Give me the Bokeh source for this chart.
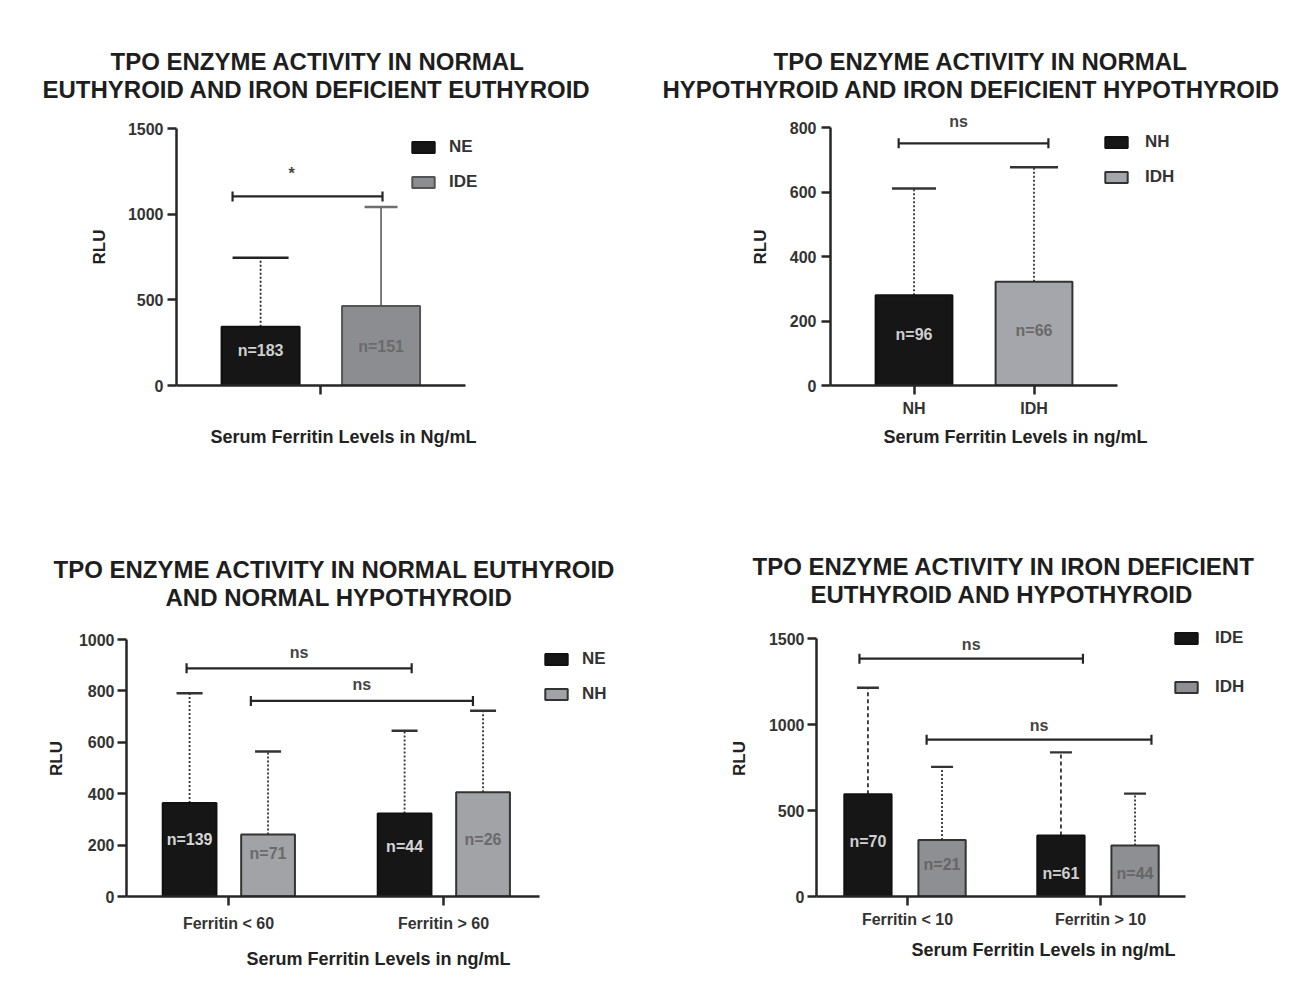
import math
from bokeh.plotting import figure
from bokeh.models import (ColumnDataSource, FixedTicker, Legend, LegendItem,
                          Range1d, Title)
from bokeh.layouts import row, column
from bokeh.transform import dodge
from bokeh.core.properties import value
from bokeh.embed import file_html
from bokeh.resources import INLINE

# ---------------------------------------------------------------- data
# Panel 1: normal euthyroid vs iron deficient euthyroid
p1_title = ["TPO ENZYME ACTIVITY IN NORMAL", "EUTHYROID AND IRON DEFICIENT EUTHYROID"]
p1_groups = [" "]
p1_series = ["NE", "IDE"]
p1_bar_group = [" ", " "]
p1_bar_series = ["NE", "IDE"]
p1_mean = [343, 464]
p1_upper = [746, 1042]
p1_n = ["n=183", "n=151"]
p1_yticks = [0, 500, 1000, 1500]
p1_sig = [(0, 1, 1104, "*")]
p1_xlabel = "Serum Ferritin Levels in Ng/mL"

# Panel 2: normal hypothyroid vs iron deficient hypothyroid
p2_title = ["TPO ENZYME ACTIVITY IN NORMAL", "HYPOTHYROID AND IRON DEFICIENT HYPOTHYROID"]
p2_groups = ["NH", "IDH"]
p2_series = ["NH", "IDH"]
p2_bar_group = ["NH", "IDH"]
p2_bar_series = ["NH", "IDH"]
p2_mean = [280, 322]
p2_upper = [611, 677]
p2_n = ["n=96", "n=66"]
p2_yticks = [0, 200, 400, 600, 800]
p2_sig = [(0, 1, 751, "ns")]
p2_xlabel = "Serum Ferritin Levels in ng/mL"

# Panel 3: normal euthyroid vs normal hypothyroid
p3_title = ["TPO ENZYME ACTIVITY IN NORMAL EUTHYROID", "AND NORMAL HYPOTHYROID"]
p3_groups = ["Ferritin < 60", "Ferritin > 60"]
p3_series = ["NE", "NH"]
p3_bar_group = ["Ferritin < 60", "Ferritin < 60", "Ferritin > 60", "Ferritin > 60"]
p3_bar_series = ["NE", "NH", "NE", "NH"]
p3_mean = [364, 241, 323, 406]
p3_upper = [791, 564, 645, 723]
p3_n = ["n=139", "n=71", "n=44", "n=26"]
p3_yticks = [0, 200, 400, 600, 800, 1000]
p3_sig = [(0, 2, 888, "ns"), (1, 3, 761, "ns")]
p3_xlabel = "Serum Ferritin Levels in ng/mL"

# Panel 4: iron deficient euthyroid vs iron deficient hypothyroid
p4_title = ["TPO ENZYME ACTIVITY IN IRON DEFICIENT", "EUTHYROID AND HYPOTHYROID"]
p4_groups = ["Ferritin < 10", "Ferritin > 10"]
p4_series = ["IDE", "IDH"]
p4_bar_group = ["Ferritin < 10", "Ferritin < 10", "Ferritin > 10", "Ferritin > 10"]
p4_bar_series = ["IDE", "IDH", "IDE", "IDH"]
p4_mean = [594, 329, 355, 296]
p4_upper = [1214, 754, 838, 598]
p4_n = ["n=70", "n=21", "n=61", "n=44"]
p4_yticks = [0, 500, 1000, 1500]
p4_sig = [(0, 2, 1383, "ns"), (1, 3, 912, "ns")]
p4_xlabel = "Serum Ferritin Levels in ng/mL"

# ---------------------------------------------------------------- styles
FONT = "Liberation Sans"
DARK = "#161616"
AXIS = "#262626"

# xr = (frame start, axis end, frame end) in group-index units
# ytop = top of the plotting frame (the axis itself stops at the last tick)
S1 = dict(width=648, height=503, borders=(176, 138, 108, 118), xr=(-0.5, 0.5, 0.656),
          ytop=1617,
          offsets={"NE": -0.209, "IDE": 0.208}, bar_w=0.27,
          fills={"NE": DARK, "IDE": "#8c8d91"},
          lines={"NE": "#111111", "IDE": "#555555"},
          ncol={"NE": "#cfcfcf", "IDE": "#6a6a6a"},
          nfrac=[0.6, 0.49],
          err={"NE": ("2 2", "#222222", 56), "IDE": ("solid", "#6e6e6e", 33)},
          sig_tweak=[(-0.097, 0.005)], sig_dx=[-16], sig_dy=-23,
          legend_loc=(233, 193), legend_spacing=15, legend_standoff=12,
          title_so=(-14, 12), title_x=(-66, -134), yl_std=(4, 16), xl_std=(4, 8))

S2 = dict(width=660, height=503, borders=(182, 108, 108, 118), xr=(-0.696, 1.696, 2.3875),
          ytop=859,
          offsets={"NH": 0.0, "IDH": 0.0}, bar_w=0.64,
          fills={"NH": DARK, "IDH": "#a5a6ab"},
          lines={"NH": "#111111", "IDH": "#333333"},
          ncol={"NH": "#cfcfcf", "IDH": "#6a6a6a"},
          nfrac=[0.57, 0.53],
          err={"NH": ("2 2", "#333333", 44), "IDH": ("2 2", "#333333", 48)},
          sig_tweak=[(-0.128, 0.12)], sig_dx=[-15], sig_dy=-22,
          legend_loc=(272, 198), legend_spacing=15, legend_standoff=15,
          title_so=(-14, 12), title_x=(-57, -168), yl_std=(5, 17), xl_std=(5, 7))

S3 = dict(width=648, height=490, borders=(126, 18, 117, 97), xr=(-0.4744, 1.4465, 1.8698),
          ytop=1074,
          offsets={"NE": -0.181, "NH": 0.184}, bar_w=0.25,
          fills={"NE": DARK, "NH": "#a2a3a7"},
          lines={"NE": "#111111", "NH": "#333333"},
          ncol={"NE": "#d6d6d6", "NH": "#6a6a6a"},
          nfrac=[0.61, 0.69, 0.6, 0.55],
          err={"NE": ("2 2", "#333333", 26), "NH": ("2 2", "#333333", 26)},
          sig_tweak=[(-0.014, 0.033), (-0.08, -0.047)], sig_dx=[0, 0], sig_dy=-16,
          legend_loc=(416, 192), legend_spacing=15, legend_standoff=12,
          title_so=(-22, 20), title_x=(-73, 39), yl_std=(3, 10), xl_std=(9, 14))

S4 = dict(width=660, height=490, borders=(168, 38, 117, 97), xr=(-0.4715, 1.4404, 1.8808),
          ytop=1605,
          offsets={"IDE": -0.205, "IDH": 0.179}, bar_w=0.245,
          fills={"IDE": DARK, "IDH": "#8e8f93"},
          lines={"IDE": "#111111", "IDH": "#333333"},
          ncol={"IDE": "#cfcfcf", "IDH": "#666666"},
          nfrac=[0.54, 0.57, 0.38, 0.45],
          err={"IDE": ("4 3", "#333333", 22), "IDH": ("2 2", "#333333", 22)},
          sig_tweak=[(-0.044, 0.114), (-0.08, 0.085)], sig_dx=[0, 0], sig_dy=-14,
          legend_loc=(356, 199), legend_spacing=29, legend_standoff=15,
          title_so=(-28, 26), title_x=(-64, -6), yl_std=(3, 17), xl_std=(5, 9))


def title_props(t, off):
    t.align = "left"
    t.offset = off
    t.text_font = FONT
    t.text_font_size = "24px"
    t.text_font_style = "bold"
    t.text_color = "#1e1e1e"


def make_panel(title, groups, series, bar_group, bar_series, mean, upper, nlab,
               yticks, sig, xlabel, s):
    bl, br, bt, bb = s["borders"]
    x0, xaxis_end, x1 = s["xr"]
    p = figure(width=s["width"], height=s["height"],
               x_range=Range1d(x0, x1), y_range=Range1d(0, s["ytop"]),
               min_border_left=bl, min_border_right=br,
               min_border_top=bt, min_border_bottom=bb,
               output_backend="svg", toolbar_location=None)
    p.background_fill_color = "white"
    p.border_fill_color = "white"
    p.outline_line_color = None
    p.xgrid.visible = False
    p.ygrid.visible = False

    # two title lines: outer line is the figure title
    p.title.text = title[0]
    title_props(p.title, s["title_x"][0])
    p.title.standoff = s["title_so"][0]
    t2 = Title(text=title[1])
    title_props(t2, s["title_x"][1])
    t2.standoff = s["title_so"][1]
    p.add_layout(t2, "above")

    renderers = {}
    for sname in series:
        idx = [i for i, ss in enumerate(bar_series) if ss == sname]
        src = ColumnDataSource(dict(
            gi=[groups.index(bar_group[i]) for i in idx],
            mean=[mean[i] for i in idx],
            upper=[upper[i] for i in idx],
            n=[nlab[i] for i in idx],
            ny=[mean[i] * s["nfrac"][i] for i in idx]))
        off = s["offsets"][sname]
        dash, ecol, cap = s["err"][sname]
        p.segment(x0=dodge("gi", off), y0="mean", x1=dodge("gi", off), y1="upper",
                  source=src, line_color=ecol, line_width=1.8, line_dash=dash)
        p.scatter(x=dodge("gi", off), y="upper", marker="dash",
                  size=cap, line_width=2.4, line_color=ecol, source=src)
        r = p.vbar(x=dodge("gi", off), top="mean", bottom=0,
                   width=s["bar_w"], source=src, fill_color=s["fills"][sname],
                   line_color=s["lines"][sname], line_width=2)
        p.text(x=dodge("gi", off), y="ny", text="n", source=src,
               text_align="center", text_baseline="middle",
               text_font=value(FONT), text_font_style="bold",
               text_font_size="16px", text_color=s["ncol"][sname])
        renderers[sname] = r

    # significance brackets
    for k, (a, b, yv, lab) in enumerate(sig):
        ta, tb = s["sig_tweak"][k]
        oa = s["offsets"][bar_series[a]] + ta
        ob = s["offsets"][bar_series[b]] + tb
        ia, ib = groups.index(bar_group[a]), groups.index(bar_group[b])
        src = ColumnDataSource(dict(ia=[ia], ib=[ib], y=[yv], lab=[lab]))
        p.segment(x0=dodge("ia", oa), y0="y", x1=dodge("ib", ob), y1="y",
                  source=src, line_color=AXIS, line_width=2.2)
        for g, o in (("ia", oa), ("ib", ob)):
            p.scatter(x=dodge(g, o), y="y", marker="dash",
                      angle=math.pi / 2, size=10, line_width=2.2,
                      line_color=AXIS, source=src)
        mid = (oa + ob + (ib - ia)) / 2.0
        p.text(x=dodge("ia", mid), y="y", text="lab", source=src,
               text_align="center", text_baseline="middle",
               x_offset=s["sig_dx"][k], y_offset=s["sig_dy"],
               text_font=value(FONT), text_font_style="bold",
               text_font_size="16px", text_color="#444444")

    # axes
    for ax in (p.xaxis[0], p.yaxis[0]):
        ax.axis_line_width = 2.5
        ax.axis_line_color = AXIS
        ax.major_tick_line_width = 2.5
        ax.major_tick_line_color = AXIS
        ax.major_tick_in = 0
        ax.major_tick_out = 9
        ax.minor_tick_line_color = None
        ax.major_label_text_font = FONT
        ax.major_label_text_font_style = "bold"
        ax.major_label_text_font_size = "16px"
        ax.major_label_text_color = "#333333"
        ax.axis_label_text_font = FONT
        ax.axis_label_text_font_style = "bold"
        ax.axis_label_text_color = "#222222"
    p.yaxis.ticker = FixedTicker(ticks=yticks)
    p.yaxis.bounds = (0, yticks[-1])
    p.yaxis.axis_label = "RLU"
    p.yaxis.axis_label_text_font_size = "17px"
    p.yaxis.major_label_standoff = s["yl_std"][0]
    p.yaxis.axis_label_standoff = s["yl_std"][1]
    p.xaxis.ticker = FixedTicker(ticks=list(range(len(groups))))
    p.xaxis.major_label_overrides = {i: g for i, g in enumerate(groups)}
    p.xaxis.bounds = (x0, xaxis_end)
    p.xaxis.axis_label = xlabel
    p.xaxis.axis_label_text_font_size = "18px"
    p.xaxis.major_label_standoff = s["xl_std"][0]
    p.xaxis.axis_label_standoff = s["xl_std"][1]

    legend = Legend(items=[LegendItem(label=value(sn), renderers=[renderers[sn]])
                           for sn in series],
                    location=s["legend_loc"], orientation="vertical",
                    glyph_width=28, glyph_height=14, label_height=20,
                    spacing=s["legend_spacing"], padding=0, margin=0,
                    label_standoff=s["legend_standoff"],
                    border_line_color=None, background_fill_alpha=0,
                    label_text_font=FONT, label_text_font_style="bold",
                    label_text_font_size="17px", label_text_color="#333333")
    p.add_layout(legend)
    return p


p1 = make_panel(p1_title, p1_groups, p1_series, p1_bar_group, p1_bar_series,
                p1_mean, p1_upper, p1_n, p1_yticks, p1_sig, p1_xlabel, S1)
p2 = make_panel(p2_title, p2_groups, p2_series, p2_bar_group, p2_bar_series,
                p2_mean, p2_upper, p2_n, p2_yticks, p2_sig, p2_xlabel, S2)
p3 = make_panel(p3_title, p3_groups, p3_series, p3_bar_group, p3_bar_series,
                p3_mean, p3_upper, p3_n, p3_yticks, p3_sig, p3_xlabel, S3)
p4 = make_panel(p4_title, p4_groups, p4_series, p4_bar_group, p4_bar_series,
                p4_mean, p4_upper, p4_n, p4_yticks, p4_sig, p4_xlabel, S4)

layout = column(row(p1, p2), row(p3, p4))
open("out.html", "w").write(file_html(layout, INLINE))
